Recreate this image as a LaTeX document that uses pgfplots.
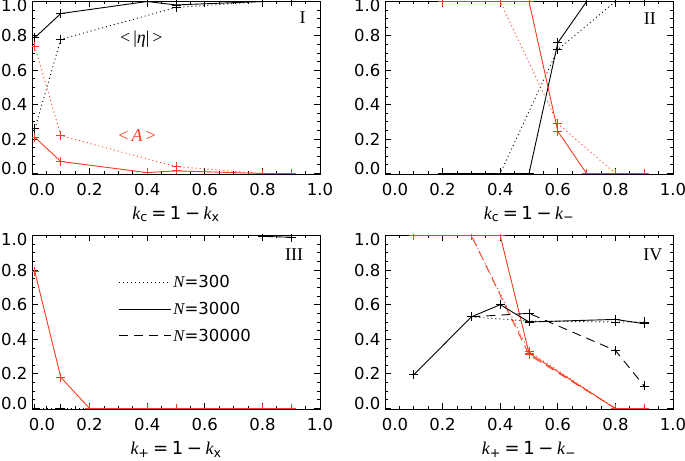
\documentclass[border=0pt]{standalone}
\usepackage{fontspec}
\setmainfont{DejaVu Sans}
\newfontfamily\tms{Liberation Serif}
\usepackage{pgfplots}
\pgfplotsset{compat=1.18}
\definecolor{rd}{RGB}{250,60,30}
\tikzset{dot/.style={dash pattern=on 1bp off 3bp},dsh/.style={dash pattern=on 9bp off 6bp}}
\newcommand{\fs}{\fontsize{16.5bp}{18bp}\selectfont}
\newcommand{\fl}{\fontsize{18bp}{20bp}\selectfont}
\newcommand{\kk}{{\tms\itshape k}}
\newcommand{\eqs}{\hspace{0.2em}}
\pgfplotsset{
  /pgf/number format/assume math mode=true,
  panel/.style={
    scale only axis, width=288bp, height=173bp, anchor=south west,
    xmin=0, xmax=1, ymin=-0.003, ymax=1.003,
    xtick={0,0.2,0.4,0.6,0.8,1.0}, ytick={0,0.2,0.4,0.6,0.8,1.0},
    minor tick num=3, tick align=inside,
    major tick length=6bp, minor tick length=3bp,
    tick style={black, line width=0.8bp},
    axis line style={line width=0.9bp},
    xticklabel={\ifnum\ticknum=0\kern20bp\fi\pgfmathprintnumber[fixed,fixed zerofill,precision=1]{\tick}},
    yticklabel={\ifnum\ticknum=0\raisebox{5bp}[\height][\depth]{\pgfmathprintnumber[fixed,fixed zerofill,precision=1]{\tick}}\else\ifnum\ticknum=5\raisebox{-4bp}[\height][\depth]{\pgfmathprintnumber[fixed,fixed zerofill,precision=1]{\tick}}\else\pgfmathprintnumber[fixed,fixed zerofill,precision=1]{\tick}\fi\fi},
    tick label style={font=\fs},
    xticklabel style={yshift=-6bp},
    yticklabel style={xshift=-1bp},
    xlabel style={font=\fl, at={(axis description cs:0.5,-0.232)}, anchor=center},
    clip=true, clip marker paths=true,
    every axis plot/.append style={line width=0.9bp, mark=+, mark size=4.5bp, mark options={solid, line width=0.8bp}},
  }
}
\begin{document}
\begin{tikzpicture}[x=1bp,y=1bp]
\useasboundingbox (0,0) rectangle (685,461);
% ---------------- Panel I
\begin{axis}[panel, at={(32bp,287bp)}, xlabel={\kk\textsubscript{c}\eqs=\eqs1\eqs\textminus\eqs\kk\textsubscript{x}}]
\addplot[black, dot] coordinates {(0.01,0.26) (0.1,0.78) (0.5,0.965) (0.8,1.0) (0.9,1.0)};
\addplot[black] coordinates {(0.01,0.79) (0.1,0.93) (0.4,1.0) (0.5,0.98) (0.8,1.0) (0.9,1.0)};
\addplot[rd, dot] coordinates {(0.01,0.74) (0.1,0.22) (0.5,0.04) (0.8,0.0) (0.9,0.0)};
\addplot[rd] coordinates {(0.01,0.21) (0.1,0.07) (0.4,0.005) (0.5,0.015) (0.8,0.0) (0.9,0.0)};
\node[font=\fl\tms] at (axis cs:0.38,0.78) {<\,|{\itshape η}|\,>};
\node[font=\fl\tms, text=rd] at (axis cs:0.365,0.22) {<\,{\itshape A}\,>};
\node[font=\fl\tms] at (axis cs:0.94,0.905) {I};
\end{axis}
% ---------------- Panel II
\begin{axis}[panel, at={(385bp,287bp)}, xlabel={\kk\textsubscript{c}\eqs=\eqs1\eqs\textminus\eqs\kk\textsubscript{\textminus}}]
\addplot[black, dot] coordinates {(0.2,0.0) (0.4,0.0) (0.6,0.72) (0.8,1.0) (0.9,1.0)};
\addplot[black] coordinates {(0.2,0.0) (0.5,0.0) (0.6,0.76) (0.7,1.0) (0.9,1.0)};
\addplot[rd, dot] coordinates {(0.2,1.0) (0.4,1.0) (0.6,0.29) (0.8,0.0) (0.9,0.0)};
\addplot[rd] coordinates {(0.2,1.0) (0.5,1.0) (0.6,0.245) (0.7,0.0) (0.9,0.0)};
\node[font=\fl\tms] at (axis cs:0.92,0.9) {II};
\end{axis}
% ---------------- Panel III
\begin{axis}[panel, at={(32bp,52bp)}, height=174bp, xlabel={\kk\textsubscript{+}\eqs=\eqs1\eqs\textminus\eqs\kk\textsubscript{x}},
  legend style={at={(axis description cs:0.30,0.78)}, anchor=north west, draw=none, fill=none, font=\fs, row sep=9bp, inner sep=0pt},
  legend cell align=left,
  legend image code/.code={\draw[#1, mark=none] (0bp,0bp) -- (52bp,0bp);},
  /tikz/every even column/.append style={column sep=10bp}]
\addlegendimage{black, dot}
\addlegendentry{{\tms\itshape N}=300}
\addlegendimage{black}
\addlegendentry{{\tms\itshape N}=3000}
\addlegendimage{black, dsh}
\addlegendentry{{\tms\itshape N}=30000}
\addplot[black, dot, forget plot] coordinates {(0.01,0.0) (0.1,0.0) (0.2,0.0) (0.4,0.0) (0.5,0.0) (0.8,0.0) (0.9,0.0)};
\addplot[black, forget plot] coordinates {(0.8,0.995) (0.9,0.99)};
\addplot[rd, forget plot] coordinates {(0.01,0.79) (0.1,0.18) (0.2,0.0) (0.4,0.0) (0.5,0.0) (0.8,0.0) (0.9,0.0)};
\node[font=\fl\tms] at (axis cs:0.91,0.89) {III};
\end{axis}
% ---------------- Panel IV
\begin{axis}[panel, at={(385bp,52bp)}, height=174bp, xlabel={\kk\textsubscript{+}\eqs=\eqs1\eqs\textminus\eqs\kk\textsubscript{\textminus}}]
\addplot[rd, dot] coordinates {(0.1,1.0) (0.3,1.0) (0.5,0.33) (0.8,0.0) (0.9,0.0)};
\addplot[rd, dsh] coordinates {(0.1,1.0) (0.3,1.0) (0.5,0.31) (0.8,0.0) (0.9,0.0)};
\addplot[rd] coordinates {(0.1,1.0) (0.3,1.0) (0.4,1.0) (0.5,0.32) (0.8,0.0) (0.9,0.0)};
\addplot[black, dot] coordinates {(0.3,0.53) (0.5,0.505) (0.8,0.50) (0.9,0.50)};
\addplot[black] coordinates {(0.1,0.195) (0.3,0.53) (0.4,0.60) (0.5,0.50) (0.8,0.515) (0.9,0.49)};
\addplot[black, dsh] coordinates {(0.3,0.53) (0.5,0.55) (0.8,0.335) (0.9,0.13)};
\node[font=\fl\tms] at (axis cs:0.93,0.89) {IV};
\end{axis}
\end{tikzpicture}
\end{document}
